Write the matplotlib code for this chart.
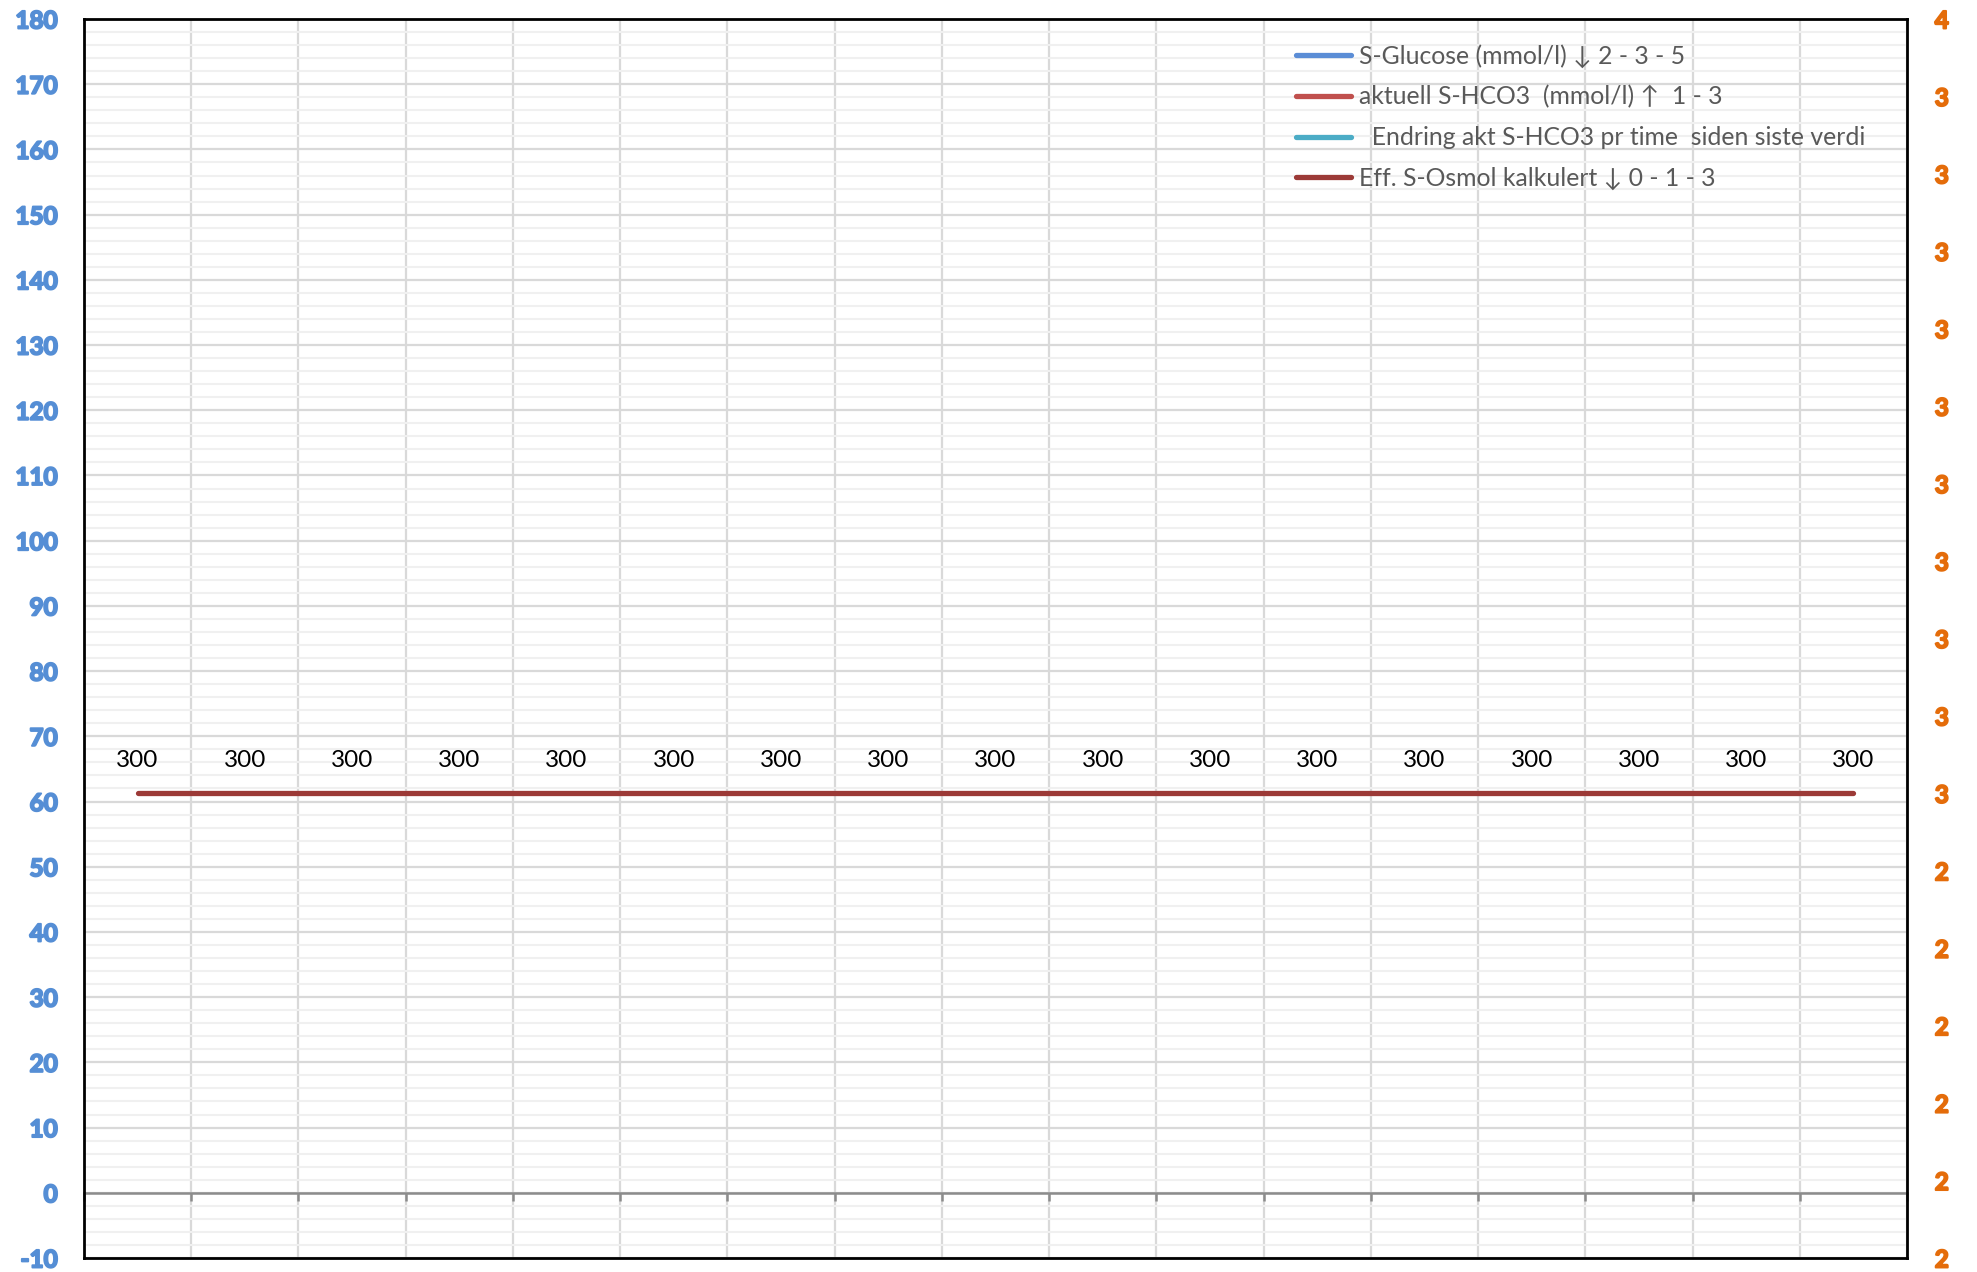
import numpy as np
import matplotlib
matplotlib.use("Agg")
import matplotlib.pyplot as plt
import matplotlib.patheffects as pe
from matplotlib.ticker import MultipleLocator

# ---- data ----
categories = list(range(17))
glucose = []            # S-Glucose (no data)
hco3 = []               # aktuell S-HCO3 (no data)
endring = []            # Endring (no data)
osmol = [300] * 17      # Eff. S-Osmol kalkulert
left_ticks = list(range(-10, 181, 10))
right_labels = ['2', '2', '2', '2', '2', '2', '3', '3', '3', '3', '3', '3', '3', '3', '3', '3', '4']

legend_labels = [
    "S-Glucose (mmol/l) \u2193 2 - 3 - 5",
    "aktuell S-HCO3  (mmol/l) \u2191  1 - 3",
    "  Endring akt S-HCO3 pr time  siden siste verdi",
    "Eff. S-Osmol kalkulert \u2193 0 - 1 - 3",
]
colors = ["#5B8DD6", "#C0504D", "#4BACC6", "#9C3A37"]
left_color = '#558ED5'
right_color = '#E46C0A'

plt.rcParams['font.family'] = ['Lato', 'DejaVu Sans']

fig = plt.figure(figsize=(19.77, 12.72), dpi=100)
ax = fig.add_axes([84 / 1977, 1 - 1258 / 1272, (1907 - 84) / 1977, (1258 - 19) / 1272])

x = np.arange(len(categories))
ax.set_xlim(-0.5, len(categories) - 0.5)
ax.set_ylim(-10, 180)

ax.set_yticks(left_ticks, labels=[str(v) for v in left_ticks],
              fontsize=17.5, fontweight='bold', color=left_color)
for lab in ax.get_yticklabels():
    lab.set_path_effects([pe.withStroke(linewidth=1.4, foreground=left_color)])
ax.yaxis.set_minor_locator(MultipleLocator(2))
ax.set_xticks(np.arange(-0.5, len(categories) + 0.5, 1))
ax.set_xticklabels([])
ax.grid(which='minor', axis='y', color='#F0F0F0', lw=1.5, zorder=0)
ax.grid(which='major', axis='y', color='#D9D9D9', lw=1.6, zorder=0)
ax.grid(which='major', axis='x', color='#D9D9D9', lw=1.6, zorder=0)
ax.set_axisbelow(True)

for side in ['left', 'right', 'top']:
    ax.spines[side].set_visible(False)
ax.spines['bottom'].set_position(('data', 0))
ax.spines['bottom'].set_color('#8C8C8C')
ax.spines['bottom'].set_linewidth(1.8)
ax.tick_params(axis='x', which='major', direction='out', length=6, width=1.8, color='#8C8C8C')
ax.tick_params(axis='y', which='both', length=0, pad=19)

# empty series for legend
h1, = ax.plot(x[:len(glucose)], glucose, color=colors[0], lw=3.8, solid_capstyle='round')
h2, = ax.plot(x[:len(hco3)], hco3, color=colors[1], lw=3.8, solid_capstyle='round')
h3, = ax.plot(x[:len(endring)], endring, color=colors[2], lw=3.8, solid_capstyle='round')

# right axis labels + black frame
ax2 = ax.twinx()
ax2.set_ylim(0, len(right_labels) - 1)
ax2.set_yticks(range(len(right_labels)), labels=right_labels,
               fontsize=17.5, fontweight='bold', color=right_color)
for lab in ax2.get_yticklabels():
    lab.set_path_effects([pe.withStroke(linewidth=1.4, foreground=right_color)])
ax2.tick_params(axis='y', length=0, pad=20)
for side in ['left', 'right', 'top', 'bottom']:
    ax2.spines[side].set_visible(True)
    ax2.spines[side].set_color('black')
    ax2.spines[side].set_linewidth(2)

# hidden axis for osmol series
ax3 = ax.twinx()
ax3.set_ylim(0, 800)
ax3.axis('off')
h4, = ax3.plot(x, osmol, color=colors[3], lw=3.8, solid_capstyle='round', zorder=5)
for xi, v in zip(x, osmol):
    ax3.annotate(f"{v}", (xi, v), xytext=(0, 24), textcoords='offset points',
                 ha='center', va='center', fontsize=17.5, color='black')

leg = ax3.legend([h1, h2, h3, h4], legend_labels, loc='upper left',
                 bbox_to_anchor=((1304 - 84) / 1823 - 0.007, 1 - (39 - 19) / 1239),
                 frameon=False, fontsize=17.8, handlelength=2.2, handletextpad=0.35,
                 labelspacing=0.71, borderaxespad=0, borderpad=0.2)
for t in leg.get_texts():
    t.set_color('#595959')

fig.savefig("out.png", dpi=100)
